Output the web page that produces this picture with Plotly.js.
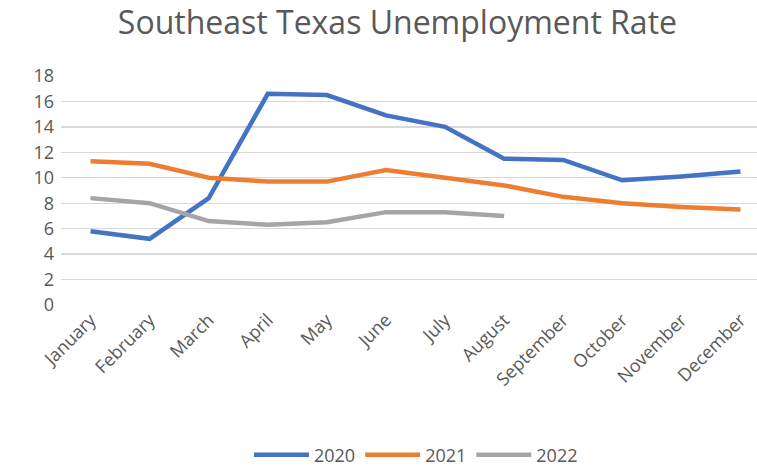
<!DOCTYPE html>
<html><head><meta charset="utf-8">
<script src="https://cdn.plot.ly/plotly-3.0.1.min.js"></script>
<style>html,body{margin:0;padding:0;background:#fff}#chart{width:757px;height:474px}</style>
</head><body><div id="chart"></div>
<script>
const months = ["January","February","March","April","May","June","July","August","September","October","November","December"];
const y2020 = [5.8,5.2,8.4,16.6,16.5,14.9,14.0,11.5,11.4,9.8,10.1,10.5];
const y2021 = [11.3,11.1,10.0,9.7,9.7,10.6,10.0,9.4,8.5,8.0,7.7,7.5];
const y2022 = [8.4,8.0,6.6,6.3,6.5,7.3,7.3,7.0];
const yTicks = [0,2,4,6,8,10,12,14,16,18];

const fnt = "Open Sans, Noto Sans, sans-serif";
function tr(name, y, color){
  return {x: months.slice(0,y.length), y: y, name: name, type:"scatter", mode:"lines",
    line:{color:color, width:4.5}};
}
const data = [tr("2020",y2020,"#4472C4"), tr("2021",y2021,"#ED7D31"), tr("2022",y2022,"#A5A5A5")];
const layout = {
  width:757, height:474,
  margin:{l:61, r:0, t:76, b:169},
  paper_bgcolor:"#fff", plot_bgcolor:"#fff",
  title:{text:"Southeast Texas Unemployment Rate", x:0.525, xanchor:"center", y:0.952, yanchor:"middle",
    font:{family:fnt, size:32, color:"#595959"}},
  xaxis:{type:"category", range:[-0.5,11.28], tickangle:-45, showgrid:false, zeroline:false,
    showline:false, ticks:"", tickfont:{family:fnt, size:18, color:"#595959"}, automargin:false},
  yaxis:{range:[0,18], tickvals:yTicks, showgrid:true, gridcolor:"#D9D9D9", gridwidth:1.3,
    zeroline:false, ticks:"", tickfont:{family:fnt, size:18, color:"#595959"}, ticklabelstandoff:6, automargin:false},
  showlegend:true,
  legend:{orientation:"h", x:0.51, xanchor:"center", y:-0.655, yanchor:"middle",
    font:{family:fnt, size:18, color:"#595959"}, itemwidth:55},
  hovermode:false
};
Plotly.newPlot("chart", data, layout, {displayModeBar:false, staticPlot:true});
</script></body></html>
